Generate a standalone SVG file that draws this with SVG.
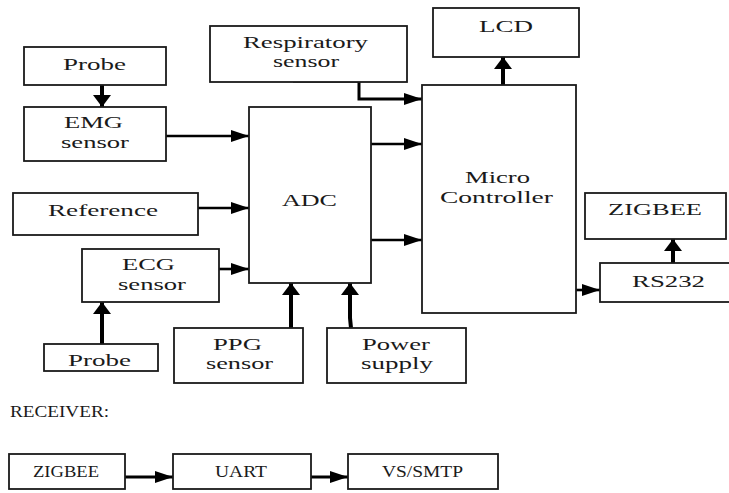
<svg xmlns="http://www.w3.org/2000/svg" width="729" height="493" viewBox="0 0 729 493">
<defs>
<style>
.box{fill:#fff;stroke:#1a1a1a;stroke-width:1.8}
.t{font-family:"Liberation Serif","Times New Roman",serif;font-size:17px;fill:#1a1a1a}
.ln{fill:none;stroke:#000;stroke-width:2.6}
.tk{fill:none;stroke:#000;stroke-width:4}
</style>
<marker id="ah" markerUnits="userSpaceOnUse" markerWidth="19" markerHeight="13" refX="18" refY="6" orient="auto"><path d="M0,0 L18,6 L0,12 z" fill="#000"/></marker>
<marker id="ahk" markerUnits="userSpaceOnUse" markerWidth="13" markerHeight="19" refX="12" refY="9" orient="auto"><path d="M0,0 L12,9 L0,18 z" fill="#000"/></marker>
</defs>
<rect width="729" height="493" fill="#fff"/>
<g id="connectors">
<path class="tk" d="M102 85 V107" marker-end="url(#ahk)"/>
<path class="ln" d="M163 136 H249" marker-end="url(#ah)"/>
<path class="ln" d="M196 208 H249" marker-end="url(#ah)"/>
<path class="ln" d="M217 269 H249" marker-end="url(#ah)"/>
<path class="tk" d="M102 344 V302" marker-end="url(#ahk)"/>
<path class="tk" d="M291 328 V283" marker-end="url(#ahk)"/>
<path class="tk" d="M351 328 L350 318 V283" marker-end="url(#ahk)"/>
<path class="ln" d="M371 144 H422" marker-end="url(#ah)"/>
<path class="ln" d="M371 240 H422" marker-end="url(#ah)"/>
<path class="ln" d="M293 81 H359 V99 H422" style="stroke-width:3" marker-end="url(#ah)"/>
<path class="tk" d="M503 85 V57" marker-end="url(#ahk)"/>
<path class="ln" d="M573 290 H600" marker-end="url(#ah)"/>
<path class="tk" d="M673 263 V239" marker-end="url(#ahk)"/>
<path class="ln" d="M124 477 H173" style="stroke-width:3" marker-end="url(#ah)"/>
<path class="ln" d="M311 477 H348" style="stroke-width:3" marker-end="url(#ah)"/>
</g>
<g id="probe1"><rect class="box" x="24" y="47" width="142" height="38"/><text class="t" x="63" y="70" textLength="63" lengthAdjust="spacingAndGlyphs">Probe</text></g>
<g id="emg"><rect class="box" x="24" y="107" width="142" height="54"/><text class="t" x="64" y="128" textLength="59" lengthAdjust="spacingAndGlyphs">EMG</text><text class="t" x="61" y="148" textLength="68" lengthAdjust="spacingAndGlyphs">sensor</text></g>
<g id="resp"><rect class="box" x="210" y="26" width="197" height="56"/><text class="t" x="243" y="48" textLength="125" lengthAdjust="spacingAndGlyphs">Respiratory</text><text class="t" x="273" y="67" textLength="66" lengthAdjust="spacingAndGlyphs">sensor</text></g>
<g id="lcd"><rect class="box" x="433" y="8" width="146" height="49"/><text class="t" x="479" y="32" textLength="54" lengthAdjust="spacingAndGlyphs">LCD</text></g>
<g id="reference"><rect class="box" x="13" y="193" width="185" height="42"/><text class="t" x="48" y="216" textLength="110" lengthAdjust="spacingAndGlyphs">Reference</text></g>
<g id="ecg"><rect class="box" x="82" y="249" width="137" height="53"/><text class="t" x="122" y="270" textLength="53" lengthAdjust="spacingAndGlyphs">ECG</text><text class="t" x="118" y="290" textLength="68" lengthAdjust="spacingAndGlyphs">sensor</text></g>
<g id="probe2"><rect class="box" x="44" y="344" width="114" height="27"/><text class="t" x="68" y="366" textLength="63" lengthAdjust="spacingAndGlyphs">Probe</text></g>
<g id="adc"><rect class="box" x="249" y="107" width="122" height="176"/><text class="t" x="282" y="206" textLength="55" lengthAdjust="spacingAndGlyphs">ADC</text></g>
<g id="ppg"><rect class="box" x="174" y="328" width="129" height="55"/><text class="t" x="213" y="350" textLength="49" lengthAdjust="spacingAndGlyphs">PPG</text><text class="t" x="206" y="369" textLength="67" lengthAdjust="spacingAndGlyphs">sensor</text></g>
<g id="power"><rect class="box" x="327" y="328" width="139" height="55"/><text class="t" x="362" y="350" textLength="68" lengthAdjust="spacingAndGlyphs">Power</text><text class="t" x="361" y="369" textLength="72" lengthAdjust="spacingAndGlyphs">supply</text></g>
<g id="micro"><rect class="box" x="422" y="85" width="154" height="228"/><text class="t" x="465" y="183" textLength="65" lengthAdjust="spacingAndGlyphs">Micro</text><text class="t" x="440" y="203" textLength="113" lengthAdjust="spacingAndGlyphs">Controller</text></g>
<g id="zigbee1"><rect class="box" x="585" y="193" width="141" height="46"/><text class="t" x="608" y="215" textLength="94" lengthAdjust="spacingAndGlyphs">ZIGBEE</text></g>
<g id="rs232"><rect class="box" x="600" y="263" width="140" height="39"/><text class="t" x="632" y="287" textLength="73" lengthAdjust="spacingAndGlyphs">RS232</text></g>
<text class="t" x="10" y="417" textLength="99" lengthAdjust="spacingAndGlyphs">RECEIVER:</text>
<g id="zigbee2"><rect class="box" x="9" y="454" width="116" height="35"/><text class="t" x="33" y="477" textLength="66" lengthAdjust="spacingAndGlyphs">ZIGBEE</text></g>
<g id="uart"><rect class="box" x="173" y="454" width="138" height="35"/><text class="t" x="215" y="477" textLength="52" lengthAdjust="spacingAndGlyphs">UART</text></g>
<g id="vssmtp"><rect class="box" x="348" y="454" width="150" height="35"/><text class="t" x="382" y="477" textLength="81" lengthAdjust="spacingAndGlyphs">VS/SMTP</text></g>
</svg>
